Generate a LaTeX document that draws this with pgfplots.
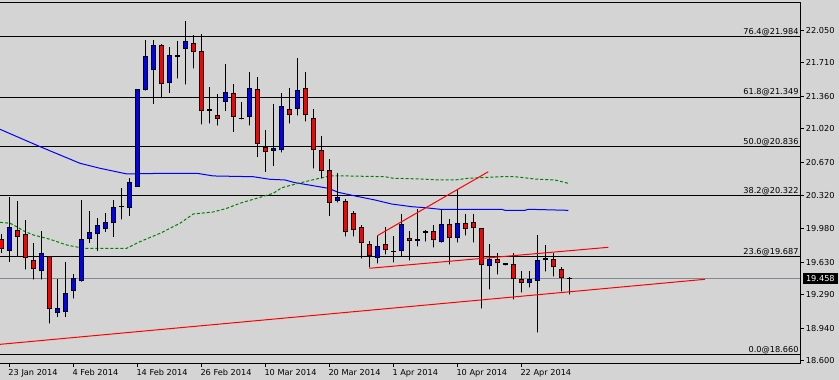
\documentclass[border=0pt]{standalone}
\usepackage{pgfplots}
\pgfplotsset{compat=1.18}
\usepackage{pgfplotstable}
\usepackage{fontspec}
\setmainfont{DejaVu Sans}
\definecolor{bg}{RGB}{212,212,212}
\definecolor{pline}{RGB}{128,136,150}
\definecolor{cblue}{RGB}{0,0,255}
\definecolor{cred}{RGB}{255,0,0}
\definecolor{magreen}{RGB}{0,128,0}
\newcommand\lf{\fontsize{8.2bp}{9.8bp}\selectfont}
\pgfplotsset{
  candle/.style={only marks, mark=*, mark size=0.01pt, mark options={draw=none, fill=none},
    error bars/.cd, y dir=plus, y explicit, error mark=none},
}

\pgfplotstableread{
i O H L C
0 19.749 20.306 19.634 19.999
4 19.534 19.954 19.450 19.721
6 19.095 19.450 19.059 19.147
7 19.105 19.628 19.059 19.304
8 19.325 19.502 19.252 19.460
9 19.429 20.278 19.429 19.868
10 19.874 20.163 19.832 19.941
11 19.920 20.093 19.749 20.014
12 19.972 20.139 19.947 20.045
13 20.035 20.278 19.895 20.202
15 20.191 20.505 20.114 20.463
16 20.417 21.434 20.417 21.434
17 21.424 21.949 21.424 21.779
18 21.632 21.949 21.284 21.893
20 21.497 21.872 21.398 21.789
22 21.852 22.147 21.486 21.935
27 21.304 21.695 21.211 21.403
30 21.142 21.611 21.058 21.444
33 20.787 21.277 20.636 20.821
34 20.797 21.392 20.776 21.256
36 21.225 21.758 21.162 21.424
41 20.264 20.557 20.254 20.306
46 19.669 19.899 19.617 19.795
49 19.742 20.129 19.690 20.024
51 19.847 20.181 19.795 19.868
54 19.836 20.170 19.836 20.024
56 19.878 20.390 19.836 20.035
60 19.586 19.815 19.346 19.659
65 19.408 19.534 19.366 19.450
66 19.429 19.909 18.897 19.648
67 19.648 19.805 19.534 19.669
}\bull

\pgfplotstableread{
i O H L C
-1 19.868 19.923 19.728 19.763
1 19.962 20.264 19.693 19.889
2 19.920 20.069 19.554 19.669
3 19.648 19.832 19.450 19.554
5 19.696 19.696 18.991 19.137
19 21.893 21.907 21.343 21.486
23 21.914 22.001 21.653 21.820
24 21.831 22.008 21.069 21.204
26 21.162 21.382 21.056 21.119
28 21.392 21.489 20.991 21.142
31 21.434 21.559 20.730 20.860
32 20.828 21.009 20.574 20.776
35 21.225 21.444 21.079 21.162
37 21.444 21.611 21.100 21.162
38 21.131 21.225 20.609 20.797
39 20.797 20.943 20.505 20.578
40 20.588 20.706 20.114 20.244
42 20.264 20.285 19.899 19.941
43 20.139 20.160 19.899 19.962
44 19.993 20.014 19.669 19.826
45 19.815 19.847 19.575 19.690
47 19.815 19.993 19.711 19.753
50 19.878 19.951 19.648 19.847
53 19.951 20.014 19.784 19.857
55 20.024 20.077 19.607 19.878
57 20.035 20.129 19.909 19.972
58 20.045 20.129 19.836 19.983
59 19.983 19.983 19.147 19.596
61 19.659 19.721 19.502 19.617
63 19.607 19.721 19.241 19.450
64 19.450 19.534 19.314 19.408
68 19.659 19.721 19.481 19.575
69 19.554 19.575 19.325 19.460
}\bear

\pgfplotstableread{
i O H L C
14 20.208 20.403 20.077 20.208
21 21.779 21.938 21.549 21.779
25 21.218 21.455 21.079 21.218
29 21.127 21.304 21.121 21.127
48 19.742 19.899 19.628 19.742
52 19.941 19.962 19.847 19.941
62 19.607 19.617 19.596 19.607
70 19.458 19.471 19.293 19.458
}\doji

\pgfplotstableread{
x y
-1.16 21.016
3.84 20.835
6.34 20.748
8.84 20.661
11.34 20.609
14.68 20.550
19.68 20.557
23.43 20.557
25.50 20.529
30.50 20.521
32.59 20.494
34.46 20.487
35.71 20.459
38.21 20.424
39.88 20.400
41.13 20.358
43.63 20.313
45.71 20.278
47.80 20.236
50.30 20.208
51.96 20.198
53.84 20.181
61.55 20.181
61.96 20.170
64.46 20.170
64.88 20.181
69.88 20.170
}\mablue

\pgfplotstableread{
x y
-1.16 20.045
0.09 20.035
0.93 19.999
1.75 19.957
3.00 19.913
5.09 19.868
7.18 19.808
9.25 19.774
14.68 19.774
16.34 19.843
18.84 19.930
21.34 20.035
23.00 20.132
25.50 20.153
27.18 20.191
28.84 20.244
31.34 20.306
33.00 20.348
34.05 20.406
36.13 20.452
38.21 20.494
40.09 20.529
42.18 20.529
46.96 20.521
48.00 20.505
51.55 20.497
53.84 20.487
55.71 20.487
57.38 20.505
61.55 20.521
63.21 20.521
65.71 20.497
68.21 20.487
69.05 20.469
69.88 20.452
}\magreen

\begin{document}
\begin{tikzpicture}
\fill[bg] (0,-16.7bp) rectangle (839bp,363.3bp);
\begin{axis}[
  at={(0,0)}, anchor=south west,
  scale only axis, width=800bp, height=361bp,
  xmin=-1.1625, xmax=98.8375, ymin=18.573, ymax=22.342,
  axis line style={draw=none},
  clip mode=individual,
  tick align=outside,
  xtick pos=left, ytick pos=right,
  yticklabel pos=right,
  minor tick num=0,
  major tick length=3.5bp,
  tick style={black, line width=1bp},
  xtick={0,8,16,24,32,40,48,56,64},
  xticklabels={23 Jan 2014,4 Feb 2014,14 Feb 2014,26 Feb 2014,10 Mar 2014,20 Mar 2014,1 Apr 2014,10 Apr 2014,22 Apr 2014},
  ytick={18.6,18.94,19.29,19.63,19.98,20.32,20.67,21.02,21.36,21.71,22.05},
  yticklabels={18.600,18.940,19.290,19.630,19.980,20.320,20.670,21.020,21.360,21.710,22.050},
  tick label style={font=\lf, text=black},
  xticklabel style={anchor=base west, inner sep=0pt, xshift=-1bp, yshift=-9bp},
  yticklabel style={anchor=west, inner sep=0pt, xshift=2.2bp},
]
% Fibonacci levels and current price line
\addplot[black, line width=1bp] coordinates {(-1.1625,21.984) (98.8375,21.984)};
\addplot[black, line width=1bp] coordinates {(-1.1625,21.349) (98.8375,21.349)};
\addplot[black, line width=1bp] coordinates {(-1.1625,20.836) (98.8375,20.836)};
\addplot[black, line width=1bp] coordinates {(-1.1625,20.322) (98.8375,20.322)};
\addplot[black, line width=1bp] coordinates {(-1.1625,19.687) (98.8375,19.687)};
\addplot[black, line width=1bp] coordinates {(-1.1625,18.660) (98.8375,18.660)};
\addplot[pline, line width=1bp] coordinates {(-1.1625,19.458) (98.8375,19.458)};

% moving averages
\addplot[cblue, line width=1bp] table[x=x,y=y] {\mablue};
\addplot[magreen, line width=1bp, dash pattern=on 3bp off 2bp] table[x=x,y=y] {\magreen};

% wicks
\addplot[black, candle, error bar style={line width=1bp, black}]
  table[x=i, y=L, y error plus expr=\thisrow{H}-\thisrow{L}] {\bull};
\addplot[black, candle, error bar style={line width=1bp, black}]
  table[x=i, y=L, y error plus expr=\thisrow{H}-\thisrow{L}] {\bear};
\addplot[black, candle, error bar style={line width=1bp, black}]
  table[x=i, y=L, y error plus expr=\thisrow{H}-\thisrow{L}] {\doji};

% bodies: outline
\addplot[black, candle, error bar style={line width=5bp, black}]
  table[x=i, y=O, y error plus expr=\thisrow{C}-\thisrow{O}] {\bull};
\addplot[black, candle, error bar style={line width=5bp, black}]
  table[x=i, y=C, y error plus expr=\thisrow{O}-\thisrow{C}] {\bear};
% bodies: fill
\addplot[cblue, candle, error bar style={line width=3bp, cblue}]
  table[x=i, y expr=\thisrow{O}+0.01044, y error plus expr=\thisrow{C}-\thisrow{O}-0.02088] {\bull};
\addplot[cred, candle, error bar style={line width=3bp, cred}]
  table[x=i, y expr=\thisrow{C}+0.01044, y error plus expr=\thisrow{O}-\thisrow{C}-0.02088] {\bear};
% doji
\addplot[black, only marks, mark=-, mark size=2.5bp, mark options={line width=1.6bp}] table[x=i, y=O] {\doji};

% trend lines
\addplot[cred, line width=1bp] coordinates {(-1.1625,18.771) (86.96,19.450)};
\addplot[cred, line width=1bp] coordinates {(45.0,19.565) (74.875,19.784)};
\addplot[cred, line width=1bp] coordinates {(46.0,19.905) (59.875,20.573)};

% fib labels
\node[anchor=base east, inner sep=0pt, font=\lf, xshift=-1.3bp, yshift=2.5bp] at (axis cs:98.8375,21.984) {76.4@21.984};
\node[anchor=base east, inner sep=0pt, font=\lf, xshift=-1.3bp, yshift=2.5bp] at (axis cs:98.8375,21.349) {61.8@21.349};
\node[anchor=base east, inner sep=0pt, font=\lf, xshift=-1.3bp, yshift=2.5bp] at (axis cs:98.8375,20.836) {50.0@20.836};
\node[anchor=base east, inner sep=0pt, font=\lf, xshift=-1.3bp, yshift=2.5bp] at (axis cs:98.8375,20.322) {38.2@20.322};
\node[anchor=base east, inner sep=0pt, font=\lf, xshift=-1.3bp, yshift=2.5bp] at (axis cs:98.8375,19.687) {23.6@19.687};
\node[anchor=base east, inner sep=0pt, font=\lf, xshift=-1.3bp, yshift=2.5bp] at (axis cs:98.8375,18.660) {0.0@18.660};
\coordinate (pt) at (axis cs:98.8375,19.458);
% frame
\draw[black, line width=1bp] (rel axis cs:0,1) -- (rel axis cs:1,1) -- (rel axis cs:1,0) -- (rel axis cs:0,0);
\end{axis}
\node[fill=black, text=white, font=\lf, anchor=west, inner xsep=3.5bp, inner ysep=2bp, xshift=2.3bp] at (pt) {19.458};
\pgfresetboundingbox
\path (0,-16.7bp) rectangle (839bp,363.3bp);
\end{tikzpicture}
\end{document}
